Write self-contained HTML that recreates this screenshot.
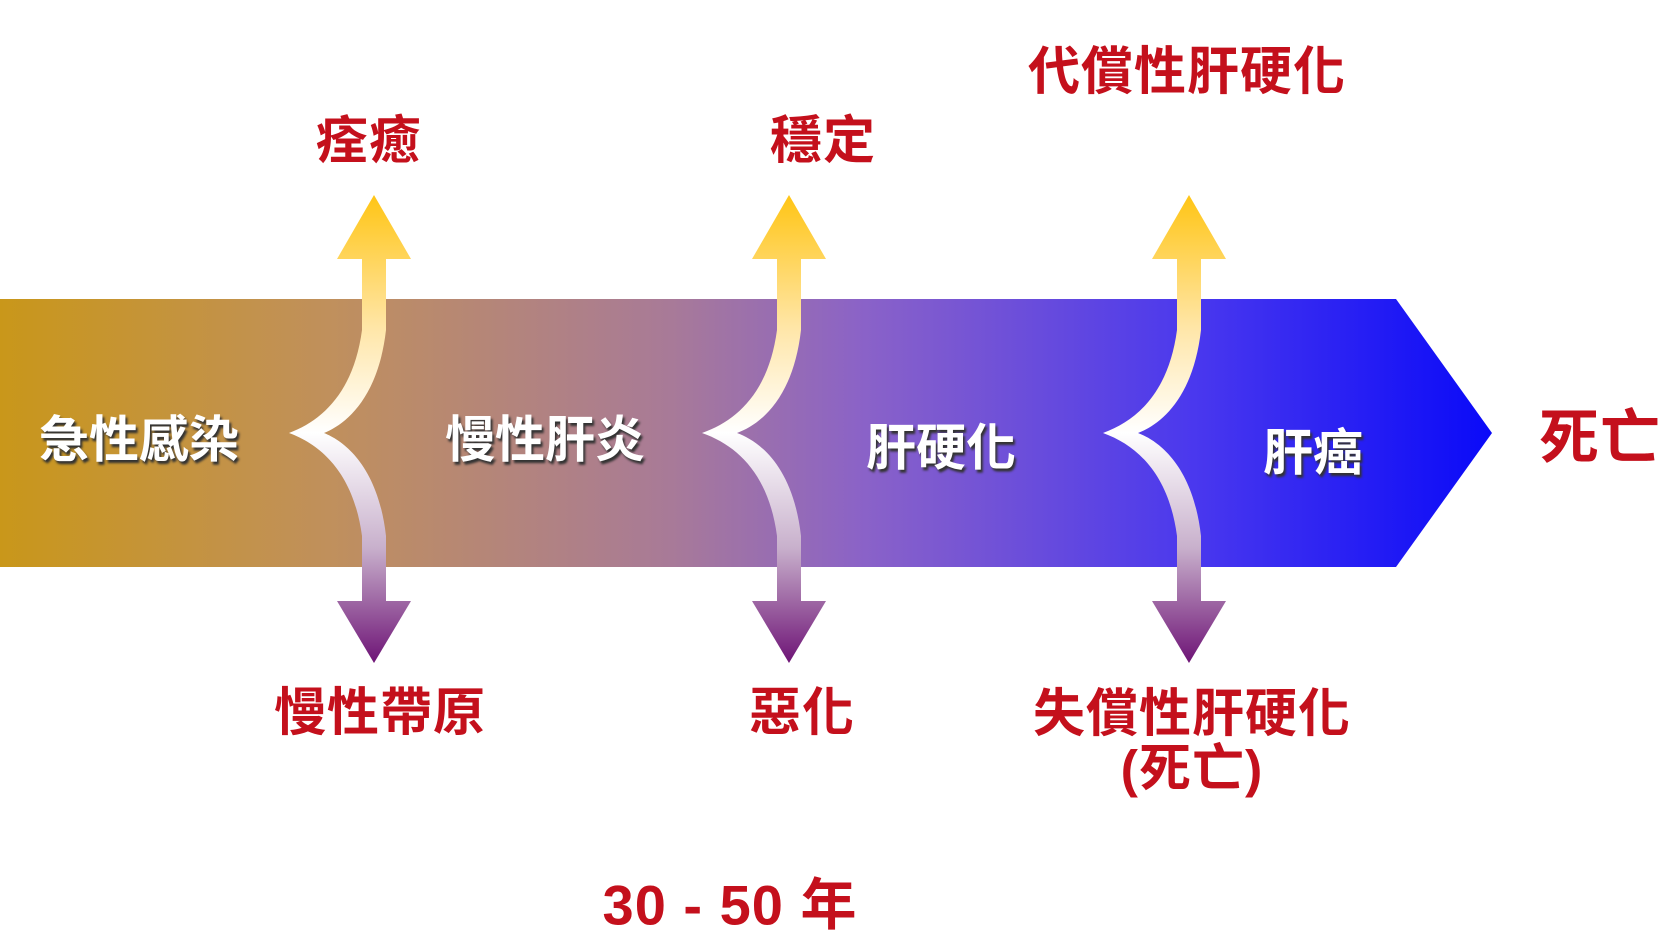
<!DOCTYPE html>
<html><head><meta charset="utf-8"><style>
body{margin:0;width:1668px;height:938px;background:#fff;overflow:hidden;position:relative;font-family:"Liberation Sans","Noto Sans CJK TC",sans-serif}
.r{position:absolute;color:#c4101c;font-weight:bold;font-size:52px;transform:translate(-50%,-50%);white-space:nowrap;text-align:center;line-height:1.05;letter-spacing:1px}
.w{position:absolute;color:#fff;font-weight:bold;font-size:50px;transform:translate(-50%,-50%);white-space:nowrap;text-shadow:2px 3px 2px #333}
</style></head><body>
<svg width="1668" height="938" style="position:absolute;left:0;top:0">
<defs>
<linearGradient id="band" x1="0" x2="1" y1="0" y2="0">
<stop offset="0" stop-color="#c9971a"/>
<stop offset="0.22" stop-color="#c0905c"/>
<stop offset="0.45" stop-color="#a87a98"/>
<stop offset="0.58" stop-color="#8a62c8"/>
<stop offset="0.8" stop-color="#4a38ee"/>
<stop offset="1" stop-color="#0a0af8"/>
</linearGradient>
<linearGradient id="up2" gradientUnits="userSpaceOnUse" x1="0" x2="0" y1="200" y2="433">
<stop offset="0" stop-color="#ffc61a"/><stop offset="0.55" stop-color="#ffe6a8"/><stop offset="1" stop-color="#fff"/>
</linearGradient>
<linearGradient id="dn2" gradientUnits="userSpaceOnUse" x1="0" x2="0" y1="433" y2="663">
<stop offset="0" stop-color="#fff"/><stop offset="0.5" stop-color="#c8b0cc"/><stop offset="1" stop-color="#6e1476"/>
</linearGradient>
</defs>
<polygon points="0,299 1396,299 1492,433 1396,567 0,567" fill="url(#band)"/>
<g transform="translate(374,0)">
<path d="M-85,433 C-50,420 -20,390 -12,330 L-12,255 L12,255 L12,330 C4,400 -30,425 -50,433 Z" fill="url(#up2)"/>
<polygon points="0,195 37,259 -37,259" fill="url(#up2)"/>
<path d="M-85,433 C-50,446 -20,476 -12,536 L-12,605 L12,605 L12,536 C4,466 -30,441 -50,433 Z" fill="url(#dn2)"/>
<polygon points="0,663 37,601 -37,601" fill="url(#dn2)"/>
</g>
<g transform="translate(789,0)">
<path d="M-87,433 C-50,420 -20,390 -12,330 L-12,255 L12,255 L12,330 C4,400 -30,425 -52,433 Z" fill="url(#up2)"/>
<polygon points="0,195 37,259 -37,259" fill="url(#up2)"/>
<path d="M-87,433 C-50,446 -20,476 -12,536 L-12,605 L12,605 L12,536 C4,466 -30,441 -52,433 Z" fill="url(#dn2)"/>
<polygon points="0,663 37,601 -37,601" fill="url(#dn2)"/>
</g>
<g transform="translate(1189,0)">
<path d="M-86,433 C-50,420 -20,390 -12,330 L-12,255 L12,255 L12,330 C4,400 -30,425 -51,433 Z" fill="url(#up2)"/>
<polygon points="0,195 37,259 -37,259" fill="url(#up2)"/>
<path d="M-86,433 C-50,446 -20,476 -12,536 L-12,605 L12,605 L12,536 C4,466 -30,441 -51,433 Z" fill="url(#dn2)"/>
<polygon points="0,663 37,601 -37,601" fill="url(#dn2)"/>
</g>
</svg>
<div class="r" style="left:369px;top:142px">痊癒</div>
<div class="r" style="left:823px;top:142px">穩定</div>
<div class="r" style="left:1187px;top:73px">代償性肝硬化</div>
<div class="r" style="left:380px;top:714px">慢性帶原</div>
<div class="r" style="left:802px;top:714px">惡化</div>
<div class="r" style="left:1192px;top:742px">失償性肝硬化<br>(死亡)</div>
<div class="r" style="left:1600px;top:438px;font-size:60px">死亡</div>
<div class="r" style="left:730px;top:906px;font-size:56px">30 - 50 年</div>
<div class="w" style="left:139px;top:436px">急性感染</div>
<div class="w" style="left:545px;top:436px">慢性肝炎</div>
<div class="w" style="left:941px;top:444px">肝硬化</div>
<div class="w" style="left:1313px;top:449px">肝癌</div>
</body></html>
